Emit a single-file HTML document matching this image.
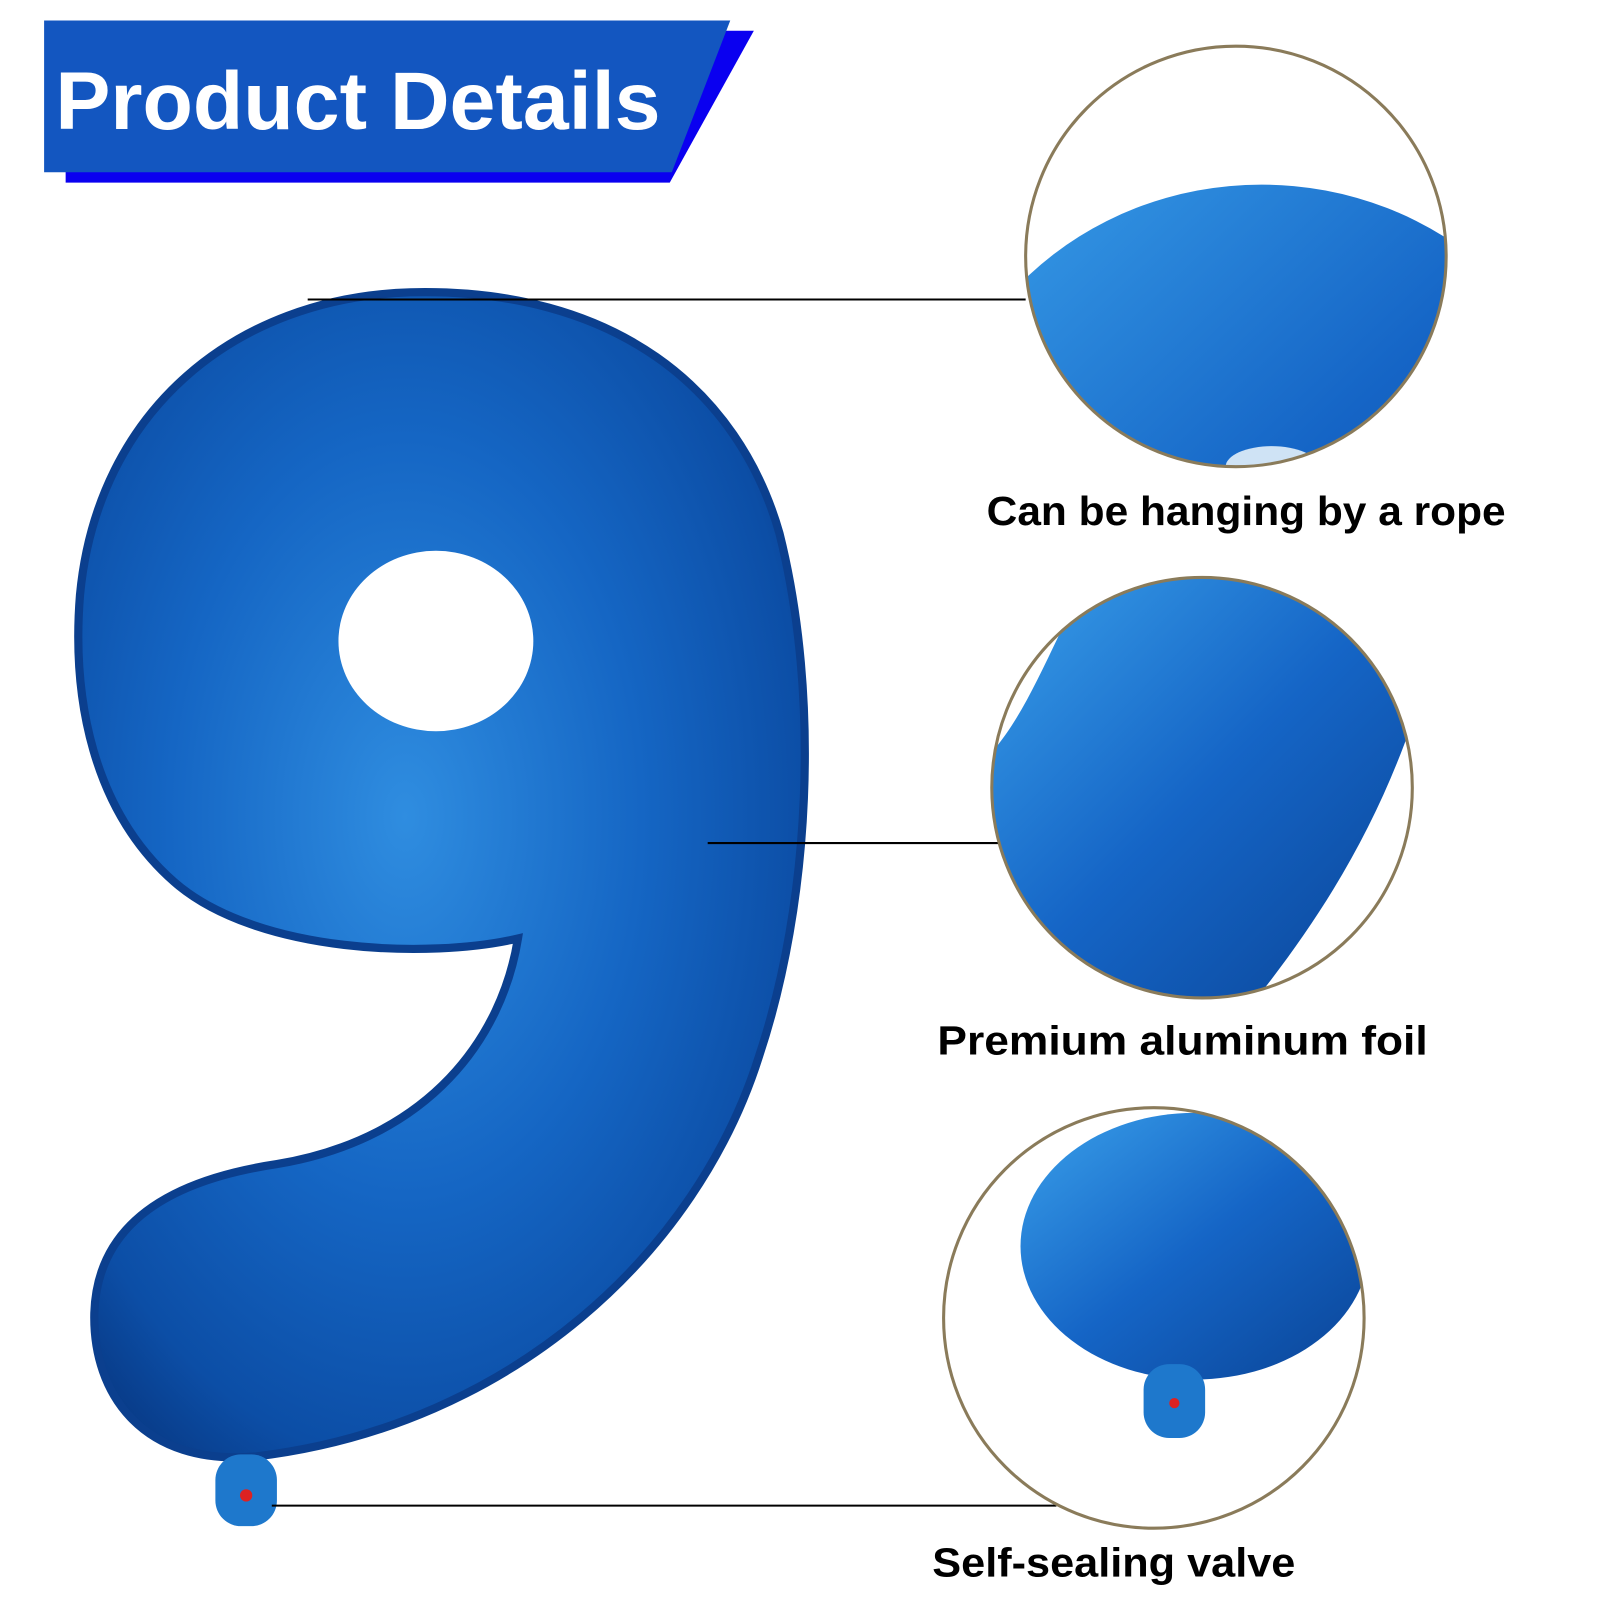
<!DOCTYPE html>
<html><head><meta charset="utf-8"><style>
html,body{margin:0;padding:0;background:#fff;}
svg{display:block;}
</style></head><body>
<svg width="1600" height="1600" viewBox="0 0 1560 1560" xmlns="http://www.w3.org/2000/svg">
<defs>
<radialGradient id="g9" cx="0.45" cy="0.45" r="0.65">
<stop offset="0" stop-color="#2f8de0"/>
<stop offset="0.5" stop-color="#1566c4"/>
<stop offset="0.85" stop-color="#0c4ea6"/>
<stop offset="1" stop-color="#083a86"/>
</radialGradient>
<linearGradient id="gb" x1="0" y1="0" x2="1" y2="1">
<stop offset="0" stop-color="#3aa0ea"/>
<stop offset="0.5" stop-color="#1565c6"/>
<stop offset="1" stop-color="#0a4496"/>
</linearGradient>
<clipPath id="c1"><circle cx="1205" cy="250" r="205"/></clipPath>
<clipPath id="c2"><circle cx="1172" cy="768" r="205"/></clipPath>
<clipPath id="c3"><circle cx="1125" cy="1285" r="205"/></clipPath>
</defs>
<rect width="1560" height="1560" fill="#fff"/>
<!-- header -->
<polygon points="64,30 735,30 653,178 64,178" fill="#0a00f0"/>
<polygon points="43,20 712,20 655,168 43,168" fill="#1356c0"/>
<text x="54" y="126" font-family="Liberation Sans, sans-serif" font-weight="bold" font-size="80" fill="#fff" textLength="590" lengthAdjust="spacingAndGlyphs">Product Details</text>
<!-- nine -->
<path d="M400,285 C600,280 720,380 760,520 C800,680 790,880 740,1030 C680,1220 500,1390 250,1420 C140,1430 90,1360 92,1280 C95,1190 170,1150 270,1135 C420,1110 490,1010 505,915 C420,935 250,930 170,860 C90,790 70,680 78,580 C95,400 230,290 400,285 Z" fill="url(#g9)" stroke="#0b3f8e" stroke-width="8"/>
<ellipse cx="425" cy="625" rx="95" ry="88" fill="#fff"/>
<rect x="210" y="1418" width="60" height="70" rx="25" fill="#1e78cc"/>
<circle cx="240" cy="1458" r="6" fill="#d22"/>
<!-- lines -->
<line x1="300" y1="292" x2="1000" y2="292" stroke="#000" stroke-width="2"/>
<line x1="690" y1="822" x2="975" y2="822" stroke="#000" stroke-width="2"/>
<line x1="265" y1="1468" x2="1030" y2="1468" stroke="#000" stroke-width="2"/>
<!-- circle 1 -->
<g clip-path="url(#c1)">
<ellipse cx="1230" cy="480" rx="320" ry="300" fill="url(#gb)"/>
<ellipse cx="1240" cy="455" rx="45" ry="20" fill="#cfe3f5"/>
</g>
<circle cx="1205" cy="250" r="205" fill="none" stroke="#8a7b5a" stroke-width="3"/>
<!-- circle 2 -->
<g clip-path="url(#c2)">
<rect x="960" y="560" width="420" height="420" fill="url(#gb)"/>
<path d="M1062,560 C1020,640 1000,700 960,741 L960,560 Z" fill="#fff"/>
<path d="M1385,680 C1350,790 1300,880 1220,980 L1385,980 Z" fill="#fff"/>
</g>
<circle cx="1172" cy="768" r="205" fill="none" stroke="#8a7b5a" stroke-width="3"/>
<!-- circle 3 -->
<g clip-path="url(#c3)">
<ellipse cx="1165" cy="1215" rx="170" ry="130" fill="url(#gb)"/>
<rect x="1115" y="1330" width="60" height="72" rx="25" fill="#1e78cc"/>
<circle cx="1145" cy="1368" r="5" fill="#d22"/>
</g>
<circle cx="1125" cy="1285" r="205" fill="none" stroke="#8a7b5a" stroke-width="3"/>
<!-- labels -->
<g font-family="Liberation Sans, sans-serif" font-weight="bold" font-size="40" fill="#000">
<text x="962" y="512" textLength="506" lengthAdjust="spacingAndGlyphs">Can be hanging by a rope</text>
<text x="914" y="1028" textLength="478" lengthAdjust="spacingAndGlyphs">Premium aluminum foil</text>
<text x="909" y="1537" textLength="354" lengthAdjust="spacingAndGlyphs">Self-sealing valve</text>
</g>
</svg>
</body></html>
